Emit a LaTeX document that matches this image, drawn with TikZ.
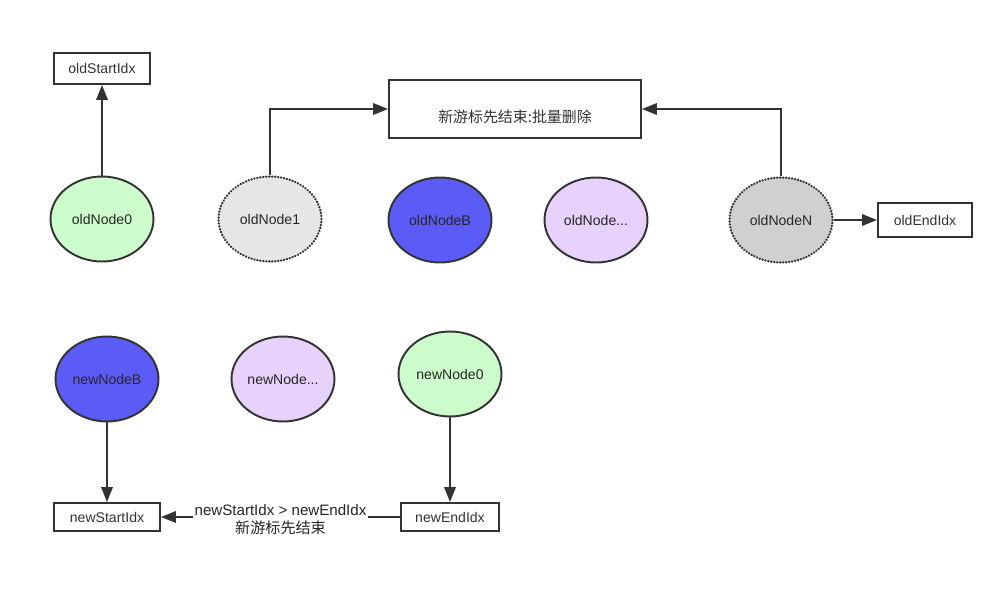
\documentclass[tikz,border=0pt]{standalone}
\usepackage{fontspec}
\setmainfont{Liberation Sans}
\newfontfamily\cjk{Noto Sans CJK SC}
\usepackage{tikz}
\usetikzlibrary{arrows.meta,positioning,shapes.geometric}

\definecolor{gruen}{HTML}{CCFCCC}
\definecolor{blau}{HTML}{5B5BF6}
\definecolor{lila}{HTML}{E6D2FA}
\definecolor{hellgrau}{HTML}{E6E6E6}
\definecolor{grau}{HTML}{D0D0D0}
\definecolor{rand}{HTML}{333333}

\tikzset{
  knoten/.style={ellipse,draw=rand,line width=1.1pt,minimum width=2.06cm,minimum height=1.7cm,inner sep=0pt,font=\fontsize{8}{10}\selectfont,text=black!85},
  punkt/.style={knoten,dash pattern=on 0.1pt off 1.6pt,line cap=round,line width=1.4pt},
  zeiger/.style={draw=rand,line width=1.1pt,inner sep=0pt,font=\fontsize{8}{10}\selectfont,text=black!80},
  pfeil/.style={draw=rand,line width=1.1pt,-{Triangle[length=8.5pt,width=6.5pt]}}
}

\begin{document}
\begin{tikzpicture}[x=0.02cm,y=-0.02cm]
\useasboundingbox (0,0) rectangle (1000,595);
%obere Reihe: alte Knoten
\node[knoten,fill=gruen] (old0) at (102,219) {oldNode0};
\node[punkt,fill=hellgrau] (old1) at (270,219) {oldNode1};
\node[knoten,fill=blau] (oldB) at (440,220) {oldNodeB};
\node[knoten,fill=lila] (oldX) at (596,220) {oldNode...};
\node[punkt,fill=grau] (oldN) at (781,220) {oldNodeN};
%Zeiger oben
\node[zeiger,minimum width=1.92cm,minimum height=0.62cm] (oldStart) at (102,68.5) {oldStartIdx};
\node[zeiger,minimum width=1.88cm,minimum height=0.68cm] (oldEnd) at (925,220) {oldEndIdx};
\node[zeiger,minimum width=5.04cm,minimum height=1.16cm,text height=0.56cm,text depth=0pt,font=\fontsize{8.5}{10}\selectfont] (del) at (515,109) {\cjk 新游标先结束:批量删除};
\draw[pfeil] (old0) -- (oldStart);
\draw[pfeil] (oldN) -- (oldEnd);
\draw[pfeil] (old1.north) |- (del.west);
\draw[pfeil] (oldN.north) |- (del.east);
%untere Reihe: neue Knoten
\node[knoten,fill=blau] (newB) at (107,379) {newNodeB};
\node[knoten,fill=lila] (newX) at (283,379) {newNode...};
\node[knoten,fill=gruen] (new0) at (450,374) {newNode0};
\node[zeiger,minimum width=2.12cm,minimum height=0.56cm] (newStart) at (107,517) {newStartIdx};
\node[zeiger,minimum width=1.96cm,minimum height=0.56cm] (newEnd) at (450,517) {newEndIdx};
\draw[pfeil] (newB) -- (newStart);
\draw[pfeil] (new0) -- (newEnd);
\draw[pfeil] (newEnd) -- node[fill=white,align=center,inner sep=1pt,yshift=-1.5pt,font=\fontsize{8.6}{10.2}\selectfont,text=black!85] {newStartIdx > newEndIdx\\{\cjk 新游标先结束}} (newStart);
\end{tikzpicture}
\end{document}
